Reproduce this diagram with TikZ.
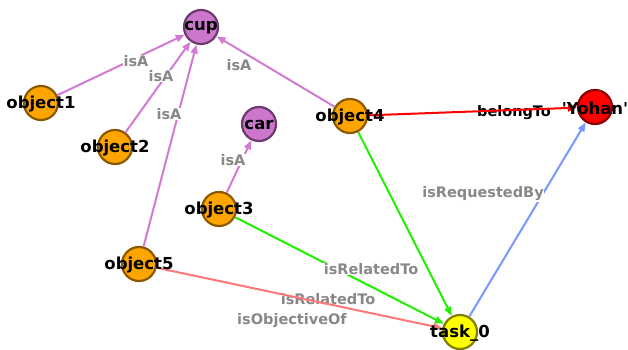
\documentclass[tikz,border=0pt]{standalone}
\usepackage{fontspec}
\setmainfont{DejaVu Sans}
\newfontfamily\plainsans{DejaVu Sans}
\usetikzlibrary{arrows.meta}
\definecolor{objfill}{HTML}{FFA500}
\definecolor{objdraw}{HTML}{8B5A00}
\definecolor{clsfill}{HTML}{CC77CC}
\definecolor{clsdraw}{HTML}{6E3B6E}
\definecolor{perfill}{HTML}{FF0000}
\definecolor{perdraw}{HTML}{8B0000}
\definecolor{taskfill}{HTML}{FFFF00}
\definecolor{taskdraw}{HTML}{808000}
\definecolor{isacol}{HTML}{D27AD2}
\definecolor{relcol}{HTML}{22EE00}
\definecolor{objcol}{HTML}{FF7777}
\definecolor{reqcol}{HTML}{7B96FF}
\definecolor{lblgray}{HTML}{888888}
\tikzset{
  vert/.style={circle, minimum size=34pt, inner sep=0pt, line width=2.2pt},
  objv/.style={vert, fill=objfill, draw=objdraw},
  clsv/.style={vert, fill=clsfill, draw=clsdraw},
  perv/.style={vert, fill=perfill, draw=perdraw},
  taskv/.style={vert, fill=taskfill, draw=taskdraw},
  vtext/.style={font=\fontsize{16.5}{18}\selectfont\bfseries, inner sep=0pt, text=black},
  elabel/.style={font=\fontsize{14.5}{16}\selectfont\bfseries, text=lblgray, fill=white, inner sep=0.5pt},
  blabel/.style={font=\fontsize{14.5}{16}\selectfont\bfseries, text=black, inner sep=0.5pt},
  link/.style={line width=2pt, -{Triangle[length=9pt,width=7pt]}}
}
\begin{document}
\begin{tikzpicture}[x=1pt,y=-1pt]
\useasboundingbox (0,0) rectangle (628,350);
% vertices
\node[clsv]  (cup)  at (201,27)  {};
\node[objv]  (o1)   at (41,103)  {};
\node[objv]  (o2)   at (115,147) {};
\node[clsv]  (car)  at (259,124) {};
\node[objv]  (o4)   at (350,116) {};
\node[perv]  (yoh)  at (595,107) {};
\node[objv]  (o3)   at (219,209) {};
\node[objv]  (o5)   at (139,264) {};
\node[taskv] (task) at (460,332) {};
% edges
\draw[link, isacol] (o1) -- (cup);
\draw[link, isacol] (o2) -- (cup);
\draw[link, isacol] (o5) -- (cup);
\draw[link, isacol] (o4) -- (cup);
\draw[link, isacol] (o3) -- (car);
\draw[link, relcol] (o4) -- (task);
\draw[link, relcol] (o3) -- (task);
\draw[link, reqcol] (task) -- (yoh);
% edge labels
\node[elabel] (l1) at (136,61)  {isA};
\node[elabel] (l2) at (161,76)  {isA};
\node[elabel] (l3) at (169,114) {isA};
\node[elabel] (l4) at (239,65)  {isA};
\node[elabel] (l5) at (233,160) {isA};
\node[elabel] (l6) at (483,194) {isRequestedBy};
\node[elabel] (l7) at (371,269) {isRelatedTo};
\node[elabel] (l8) at (328,299) {isRelatedTo};
\node[elabel] (l9) at (292,321) {isObjectiveOf};
\node[blabel] (l10) at (514,113) {belongTo};
% edges drawn over labels
\draw[link, objcol] (o5) -- (task);
\draw[link, red] (o4) -- (yoh);
% vertex texts
\node[vtext] (t1) at ([yshift=-1pt]o1)   {object1};
\node[vtext] (t2) at ([yshift=-1pt]o2)   {object2};
\node[vtext] (t3) at ([yshift=-1pt]o3)   {object3};
\node[vtext] (t4) at ([yshift=-1pt]o4)   {object4};
\node[vtext] (t5) at ([yshift=-1pt]o5)   {object5};
\node[vtext] (tc) at ([yshift=-1pt]cup)  {cup};
\node[vtext] (tr) at ([yshift=-1pt]car)  {car};
\node[vtext] (ty) at ([yshift=-1pt]yoh)  {\plainsans\bfseries 'Yohan'};
\node[vtext] (tt) at ([yshift=-1pt]task) {task\_0};
\end{tikzpicture}
\end{document}
